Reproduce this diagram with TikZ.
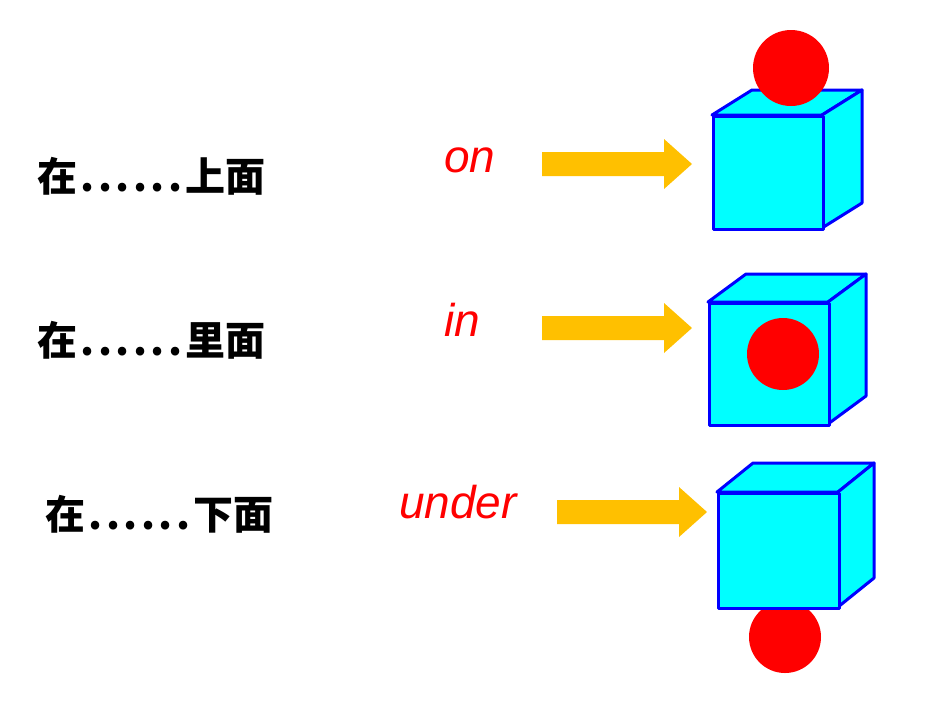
\documentclass[tikz,border=0pt]{standalone}
\usepackage{fontspec}
\newfontfamily\cjk{Noto Sans CJK SC}[BoldFont={* Black}]
\setsansfont{Liberation Sans}
\definecolor{cubec}{RGB}{0,255,255}
\definecolor{edgec}{RGB}{0,0,255}
\newcommand{\dotsrow}{\makebox[108pt]{\hfill.\hfill.\hfill.\hfill.\hfill.\hfill.\hfill}}
\begin{document}
\begin{tikzpicture}[x=1pt,y=-1pt,
  face/.style={fill=cubec,draw=edgec,line width=3pt,line join=round},
  ball/.style={fill=red,draw=none},
  arr/.style={fill={rgb,255:red,255;green,192;blue,0},draw=none},
  cn/.style={font=\cjk\bfseries\fontsize{40}{40}\selectfont,anchor=west},
  en/.style={font=\sffamily\itshape\fontsize{46}{46}\selectfont,text=red}]
\useasboundingbox (0,0) rectangle (950,713);
\newcommand{\cube}[7]{% x0 y0 x1 y1 dx dy name
  \fill[face] (#1,#2) -- (#1+#5,#2-#6) -- (#3+#5,#2-#6) -- (#3,#2) -- cycle;
  \fill[face] (#3,#2) -- (#3+#5,#2-#6) -- (#3+#5,#4-#6) -- (#3,#4) -- cycle;
  \node[face,minimum width=#3-#1,minimum height=#4-#2,inner sep=0,anchor=north west] (#7) at (#1,#2) {};}
\newcommand{\barrow}[3]{% x0 x1 yc
  \fill[arr] (#1,#3-12) -- (#2-28,#3-12) -- (#2-28,#3-25) -- (#2,#3) -- (#2-28,#3+25) -- (#2-28,#3+12) -- (#1,#3+12) -- cycle;}
% row 1
\node[cn] (t1) at (34,176) {在\dotsrow 上面};
\node[en] (e1) at (470,160) {on};
\barrow{542}{692}{164}
\cube{712}{115}{822}{228}{40}{25}{c1}
\node[ball,circle,minimum size=76pt,inner sep=0] (b1) at (791,68) {};
% row 2
\node[cn] (t2) at (34,340) {在\dotsrow 里面};
\node[en] (e2) at (462,320) {in};
\barrow{542}{692}{328}
\cube{708}{302}{828}{424}{38}{28}{c2}
\node[ball,circle,minimum size=72pt,inner sep=0] (b2) at (783,354) {};
% row 3
\node[ball,circle,minimum size=72pt,inner sep=0] (b3) at (785,637) {};
\node[cn] (t3) at (42,514) {在\dotsrow 下面};
\node[en] (e3) at (458,502) {under};
\barrow{557}{707}{512}
\cube{717}{492}{838}{607}{36}{29}{c3}
\end{tikzpicture}
\end{document}
